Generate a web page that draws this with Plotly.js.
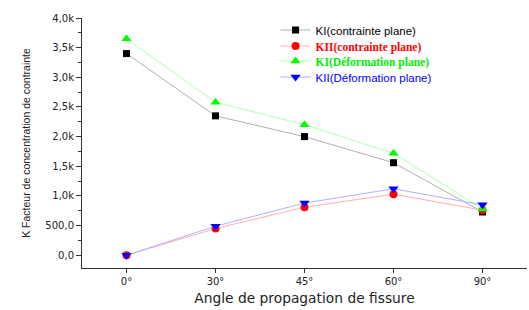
<!DOCTYPE html>
<html>
<head>
<meta charset="utf-8">
<script src="https://cdn.plot.ly/plotly-3.0.1.min.js"></script>
<style>html,body{margin:0;padding:0;background:#fff;}#chart{width:529px;height:310px;}</style>
</head>
<body>
<div id="chart"></div>
<script>
var angles = ['0°', '30°', '45°', '60°', '90°'];
var kiContrainte = [3400, 2350, 2000, 1560, 730];
var kiiContrainte = [0, 450, 810, 1030, 760];
var kiDeformation = [3650, 2580, 2200, 1720, 780];
var kiiDeformation = [0, 490, 880, 1120, 850];
var yTickVals = [0, 500, 1000, 1500, 2000, 2500, 3000, 3500, 4000];
var yTickText = ['0,0', '500,0', '1,0k', '1,5k', '2,0k', '2,5k', '3,0k', '3,5k', '4,0k'];

var sans = 'Liberation Sans, Arial, sans-serif';
var wide = 'DejaVu Sans, Verdana, sans-serif';
var serif = 'Liberation Serif, Times New Roman, serif';

var traces = [
  {x: angles, y: kiContrainte, type: 'scatter', mode: 'lines+markers', legend: 'legend',
   name: '<span style="color:#000">KI(contrainte plane)</span>',
   line: {color: '#b0b0b0', width: 1},
   marker: {symbol: 'square', size: 7, color: '#000000'}},
  {x: angles, y: kiiContrainte, type: 'scatter', mode: 'lines+markers', legend: 'legend2',
   name: '<span style="color:#ff0000;font-family:' + serif + ';font-weight:bold">KII(contrainte plane)</span>',
   line: {color: '#ffb0b0', width: 1},
   marker: {symbol: 'circle', size: 8, color: '#ff0000'}},
  {x: angles, y: kiDeformation, type: 'scatter', mode: 'lines+markers', legend: 'legend3',
   name: '<span style="color:#00ee00;font-family:' + serif + ';font-weight:bold">KI(Déformation plane)</span>',
   line: {color: '#b0ffb0', width: 1},
   marker: {symbol: 'triangle-up', size: 9, color: '#00ff00'}},
  {x: angles, y: kiiDeformation, type: 'scatter', mode: 'lines+markers', legend: 'legend4',
   name: '<span style="color:#0000ff">KII(Déformation plane)</span>',
   line: {color: '#b0b0ff', width: 1},
   marker: {symbol: 'triangle-down', size: 9, color: '#0000ff'}}
];

function leg(y) {
  return {x: 0.435, y: y, xanchor: 'left', yanchor: 'top', bgcolor: 'rgba(0,0,0,0)',
          font: {family: sans, size: 11.5, color: '#000'}};
}

var layout = {
  width: 529, height: 310,
  margin: {l: 82, r: 2, t: 18, b: 42},
  paper_bgcolor: '#ffffff', plot_bgcolor: '#ffffff',
  font: {family: sans, color: '#222222', size: 10},
  showlegend: true,
  legend: leg(1.01),
  legend2: leg(0.946),
  legend3: leg(0.886),
  legend4: leg(0.822),
  xaxis: {
    type: 'category', range: [-0.5, 4.5], showgrid: false, zeroline: false,
    showline: true, linecolor: '#333', linewidth: 1,
    ticks: 'outside', ticklen: 4, tickcolor: '#333',
    minor: {ticks: 'outside', ticklen: 4, tickcolor: '#333'},
    tickfont: {family: wide, size: 10, color: '#222'},
    title: {text: 'Angle de propagation de fissure', font: {family: wide, size: 13.8, color: '#222'}, standoff: 7}
  },
  yaxis: {
    range: [-215, 4000], showgrid: false, zeroline: false,
    showline: true, linecolor: '#333', linewidth: 1,
    ticks: 'outside', ticklen: 5, tickcolor: '#333',
    tickvals: yTickVals, ticktext: yTickText,
    minor: {ticks: 'outside', ticklen: 3, tickcolor: '#333', dtick: 250, tick0: 0},
    tickfont: {family: wide, size: 10, color: '#222'},
    title: {text: 'K Facteur de concentration de contrainte', font: {family: sans, size: 10.5, color: '#222'}, standoff: 12}
  }
};

Plotly.newPlot('chart', traces, layout, {displayModeBar: false, staticPlot: true});
</script>
</body>
</html>
